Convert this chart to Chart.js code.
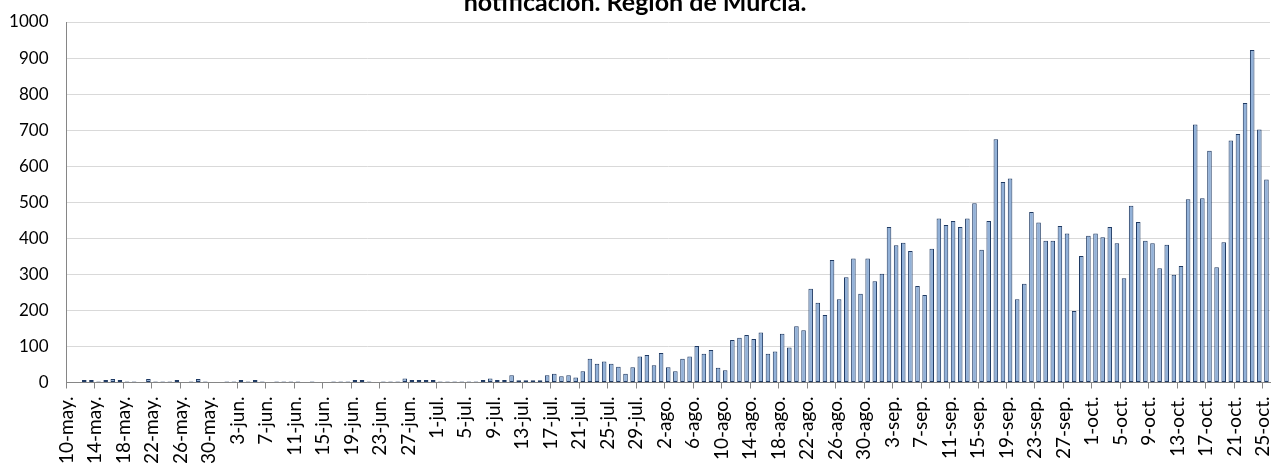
<!DOCTYPE html>
<html>
<head>
<meta charset="utf-8">
<script src="https://cdn.jsdelivr.net/npm/chart.js@4.4.1/dist/chart.umd.min.js"></script>
<style>
  html, body { margin: 0; padding: 0; background: #fff; overflow: hidden; }
  #wrap { position: absolute; left: 0; top: -14px; width: 1279px; height: 477px; }
</style>
</head>
<body>
<div id="wrap"><canvas id="c" width="1279" height="477"></canvas></div>
<script>
// Title (only the visible second line of the original title)
const titleText = 'notificación. Región de Murcia.';

// Month blocks used for the daily categories: [suffix, first day, last day]
const monthBlocks = [
  ['may.', 10, 31],
  ['jun.', 1, 30],
  ['jul.', 1, 31],
  ['ago.', 1, 31],
  ['sep.', 1, 30],
  ['oct.', 1, 25]
];

// Daily values, 10-may .. 25-oct
const values = [
  0, 0, 7, 7, 3, 7, 10, 7, 3, 3,           // 10-may .. 19-may
  0, 10, 3, 3, 3, 7, 0, 3, 10, 3,          // 20-may .. 29-may
  0, 0, 3, 3, 7, 3, 7, 3, 0, 3,            // 30-may .. 8-jun
  3, 3, 3, 0, 3, 0, 0, 3, 3, 3,            // 9-jun .. 18-jun
  7, 7, 3, 0, 3, 3, 3, 11, 7, 7,           // 19-jun .. 28-jun
  7, 7, 3, 3, 3, 3, 3, 3, 7, 11,           // 29-jun .. 8-jul
  7, 7, 20, 6, 6, 6, 6, 20, 24, 17,        // 9-jul .. 18-jul
  20, 14, 31, 66, 52, 58, 52, 44, 24, 42,  // 19-jul .. 28-jul
  72, 76, 48, 82, 42, 31, 66, 72, 101, 80, // 29-jul .. 7-ago
  90, 41, 34, 118, 124, 132, 121, 139, 80, 86,   // 8-ago .. 17-ago
  135, 97, 156, 145, 260, 221, 187, 340, 231, 292, // 18-ago .. 27-ago
  344, 246, 344, 281, 302, 431, 381, 388, 365, 268, // 28-ago .. 6-sep
  243, 371, 455, 437, 448, 431, 455, 497, 368, 448, // 7-sep .. 16-sep
  675, 556, 566, 231, 274, 473, 444, 393, 393, 434, // 17-sep .. 26-sep
  413, 198, 351, 407, 413, 403, 431, 386, 289, 490, // 27-sep .. 6-oct
  445, 393, 386, 317, 382, 299, 323, 508, 716, 511, // 7-oct .. 16-oct
  643, 320, 389, 671, 689, 775, 922, 702, 563       // 17-oct .. 25-oct
];

// Build daily category labels
const categories = [];
for (const [suffix, from, to] of monthBlocks) {
  for (let d = from; d <= to; d++) categories.push(d + '-' + suffix);
}

const yTicks = { min: 0, max: 1000, step: 100 };
const labelEvery = 4;

const FONT = 'Lato, "Liberation Sans", sans-serif';

new Chart(document.getElementById('c'), {
  type: 'bar',
  data: {
    labels: categories,
    datasets: [{
      data: values,
      backgroundColor: '#92B1D8',
      borderColor: '#1F3A63',
      borderWidth: 1,
      borderSkipped: false,
      barPercentage: 0.64,
      categoryPercentage: 1.0
    }]
  },
  options: {
    responsive: false,
    animation: false,
    devicePixelRatio: 1,
    layout: { padding: { left: 0, right: 9, top: 0, bottom: 0 } },
    plugins: {
      legend: { display: false },
      tooltip: { enabled: false },
      title: {
        display: true,
        text: titleText,
        color: '#000',
        font: { family: FONT, size: 25, weight: 'bold' },
        padding: { top: 1.5, bottom: 4.5 }
      }
    },
    scales: {
      x: {
        offset: true,
        grid: {
          display: true,
          offset: true,
          drawOnChartArea: false,
          drawTicks: true,
          tickLength: 6,
          color: (ctx) => (ctx.index % labelEvery === 0 ? '#868686' : 'rgba(0,0,0,0)'),
          lineWidth: 1
        },
        border: { display: true, color: '#868686', width: 1 },
        ticks: {
          autoSkip: false,
          minRotation: 90,
          maxRotation: 90,
          padding: 8,
          labelOffset: -3.5,
          color: '#000',
          font: { family: FONT, size: 19 },
          callback: function (v, i) { return i % labelEvery === 0 ? categories[i] : ''; }
        },
        afterFit: (scale) => {
          scale.height = 80.5;
          scale.paddingLeft = 0;
          scale.paddingRight = 0;
        }
      },
      y: {
        min: yTicks.min,
        max: yTicks.max,
        grid: { color: '#D9D9D9', lineWidth: 1, drawTicks: false },
        border: { display: true, color: '#868686', width: 1 },
        ticks: {
          stepSize: yTicks.step,
          padding: 18,
          color: '#000',
          font: { family: FONT, size: 17 },
          callback: (v) => String(v)
        },
        afterFit: (scale) => { scale.width = 66.5; }
      }
    }
  }
});
</script>
</body>
</html>
